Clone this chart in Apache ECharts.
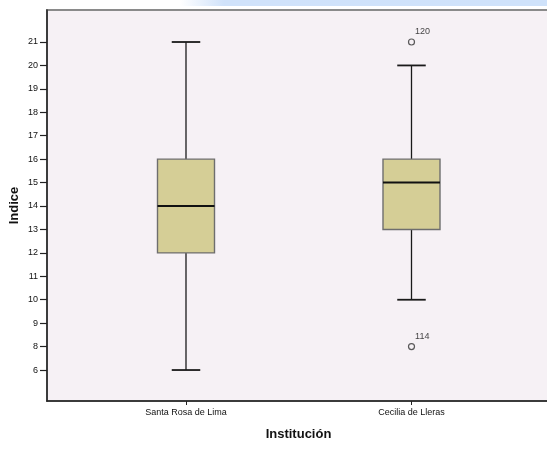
<!DOCTYPE html>
<html>
<head>
<meta charset="utf-8">
<script src="https://cdn.jsdelivr.net/npm/echarts@6/dist/echarts.min.js"></script>
<style>
html,body{margin:0;padding:0;background:#fff;}
#c{width:547px;height:451px;}
</style>
</head>
<body>
<div id="c"></div>
<script>
// ---- data ----
var categories = ['Santa Rosa de Lima', 'Cecilia de Lleras'];
// ordinal levels shown on the y axis (value 7 does not occur)
var tickLabels = ['6','8','9','10','11','12','13','14','15','16','17','18','19','20','21'];
// [min, Q1, median, Q3, max]
var santaRosa = [6, 12, 14, 16, 21];
var cecilia = [10, 13, 15, 16, 20];
// outliers: [category index, value, case label]
var outliers = [[1, 21, '120'], [1, 8, '114']];

function lvl(v){ return tickLabels.indexOf(String(v)); }

var boxData = [santaRosa, cecilia].map(function(s, i){
  return [i + 1].concat(s.map(lvl));
});
var outlierData = outliers.map(function(o){
  return { value: [o[0] + 1, lvl(o[1])], name: o[2] };
});
var levelIdx = tickLabels.map(function(t, i){ return i; });

var chart = echarts.init(document.getElementById('c'));
var txt = '#111';
chart.setOption({
  animation: false,
  backgroundColor: '#ffffff',
  graphic: [{
    type: 'rect', left: 180, top: 0, silent: true,
    shape: { width: 367, height: 6 },
    style: { fill: new echarts.graphic.LinearGradient(0, 0, 1, 0, [
      { offset: 0, color: 'rgba(208,226,250,0)' },
      { offset: 0.12, color: '#d0e2fa' },
      { offset: 1, color: '#cfe2fa' }
    ]) }
  }],
  grid: {
    left: 47, top: 10, right: -3, bottom: 50,
    containLabel: false, outerBoundsMode: 'none',
    show: true, backgroundColor: '#F6F1F5',
    borderColor: '#8a8a8a', borderWidth: 2
  },
  xAxis: {
    type: 'value', min: 0.3836, max: 2.6142,
    splitLine: { show: false },
    axisLine: { show: true, onZero: false, lineStyle: { color: '#222', width: 1.5 } },
    axisTick: { show: true, length: 4, customValues: [1, 2], lineStyle: { color: '#222' } },
    axisLabel: {
      customValues: [1, 2], margin: 7,
      fontFamily: 'Liberation Sans', fontSize: 9, color: txt,
      formatter: function(v){ return categories[Math.round(v) - 1] || ''; }
    },
    name: 'Institución', nameLocation: 'middle', nameGap: 27, nameMoveOverlap: false,
    nameTextStyle: { fontFamily: 'Liberation Sans', fontWeight: 'bold', fontSize: 13, color: txt }
  },
  yAxis: {
    type: 'value', min: -1.322, max: 15.366,
    splitLine: { show: false },
    axisLine: { show: true, onZero: false, lineStyle: { color: '#222', width: 1.5 } },
    axisTick: { show: true, length: 7, customValues: levelIdx, lineStyle: { color: '#222', width: 1.2 } },
    axisLabel: {
      customValues: levelIdx, margin: 9,
      fontFamily: 'Liberation Sans', fontSize: 9, color: txt,
      formatter: function(v){ return tickLabels[Math.round(v)]; }
    },
    name: 'Indice', nameLocation: 'middle', nameGap: 26, nameMoveOverlap: false,
    nameTextStyle: { fontFamily: 'Liberation Sans', fontWeight: 'bold', fontSize: 13, color: txt }
  },
  series: [{
    type: 'custom',
    data: boxData,
    renderItem: function(params, api){
      var x = api.value(0);
      var pMin = api.coord([x, api.value(1)]);
      var pQ1 = api.coord([x, api.value(2)]);
      var pMed = api.coord([x, api.value(3)]);
      var pQ3 = api.coord([x, api.value(4)]);
      var pMax = api.coord([x, api.value(5)]);
      var bw = api.size([0.2528, 0])[0];
      var cw = bw / 2;
      var cx = pMin[0];
      var wl = { stroke: '#1a1a1a', lineWidth: 1.3 };
      return {
        type: 'group',
        children: [
          { type: 'line', shape: { x1: cx, y1: pMax[1], x2: cx, y2: pQ3[1] }, style: wl },
          { type: 'line', shape: { x1: cx, y1: pQ1[1], x2: cx, y2: pMin[1] }, style: wl },
          { type: 'line', shape: { x1: cx - cw / 2, y1: pMax[1], x2: cx + cw / 2, y2: pMax[1] }, style: { stroke: '#1a1a1a', lineWidth: 1.8 } },
          { type: 'line', shape: { x1: cx - cw / 2, y1: pMin[1], x2: cx + cw / 2, y2: pMin[1] }, style: { stroke: '#1a1a1a', lineWidth: 1.8 } },
          { type: 'rect', shape: { x: cx - bw / 2, y: pQ3[1], width: bw, height: pQ1[1] - pQ3[1] },
            style: { fill: '#D5CE96', stroke: '#6e6e6e', lineWidth: 1.4 } },
          { type: 'line', shape: { x1: cx - bw / 2, y1: pMed[1], x2: cx + bw / 2, y2: pMed[1] }, style: { stroke: '#111', lineWidth: 2 } }
        ]
      };
    }
  }, {
    type: 'scatter',
    data: outlierData,
    symbol: 'circle', symbolSize: 6,
    itemStyle: { color: '#F6F1F5', borderColor: '#333', borderWidth: 1.2 },
    label: {
      show: true, position: 'right', distance: 0, offset: [0, -10],
      formatter: function(p){ return p.name; },
      fontFamily: 'Liberation Sans', fontSize: 9, color: txt
    }
  }]
});
</script>
</body>
</html>
